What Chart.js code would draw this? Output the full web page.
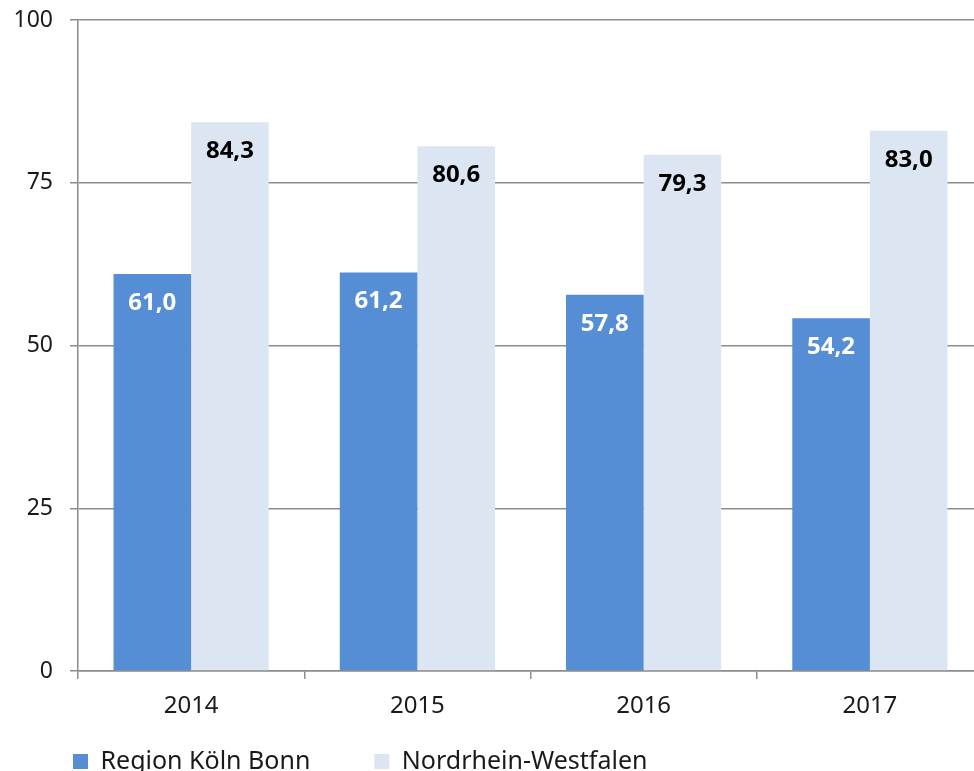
<!DOCTYPE html>
<html lang="de">
<head>
<meta charset="utf-8">
<script src="https://cdn.jsdelivr.net/npm/chart.js@4/dist/chart.umd.min.js"></script>
<style>
  html, body { margin: 0; padding: 0; background: #fff; overflow: hidden; }
  #wrap { width: 983px; height: 820px; position: relative; }
</style>
</head>
<body>
<div id="wrap"><canvas id="c"></canvas></div>
<script>
// Jahre und Anteile je Region
const years = ['2014', '2015', '2016', '2017'];
const regionKoelnBonn = [61.0, 61.2, 57.8, 54.2];
const nordrheinWestfalen = [84.3, 80.6, 79.3, 83.0];
const yTicks = [0, 25, 50, 75, 100];

const FONT = '"Noto Sans", "Open Sans", sans-serif';
const GRID = '#8c8c8c';
const LEGEND_GAP = 64;

// Wert in jeden Balken schreiben, knapp unter der Oberkante
const valueLabels = {
  id: 'valueLabels',
  afterDatasetsDraw(chart) {
    const ctx = chart.ctx;
    ctx.save();
    ctx.font = 'bold 24px ' + FONT;
    ctx.textAlign = 'center';
    ctx.textBaseline = 'middle';
    chart.data.datasets.forEach((ds, i) => {
      const meta = chart.getDatasetMeta(i);
      ctx.fillStyle = i === 0 ? '#ffffff' : '#000000';
      meta.data.forEach((bar, j) => {
        const txt = ds.data[j].toFixed(1).replace('.', ',');
        ctx.fillText(txt, bar.x, bar.y + 29);
      });
    });
    ctx.restore();
  }
};

// Legende näher an die Achsenbeschriftung rücken
const legendShift = {
  id: 'legendShift',
  afterLayout(chart) {
    if (chart.legend) chart.legend.top = chart.scales.x.bottom - 36;
  }
};

new Chart(document.getElementById('c'), {
  type: 'bar',
  data: {
    labels: years,
    datasets: [
      { label: 'Region Köln Bonn', data: regionKoelnBonn, backgroundColor: '#558ed5' },
      { label: 'Nordrhein-Westfalen', data: nordrheinWestfalen, backgroundColor: '#dce6f2' }
    ]
  },
  options: {
    responsive: true,
    maintainAspectRatio: false,
    animation: false,
    events: [],
    layout: { padding: { left: 73 - LEGEND_GAP, top: 0, right: 0, bottom: 0 } },
    datasets: { bar: { categoryPercentage: 0.686, barPercentage: 1.0 } },
    scales: {
      x: {
        border: { display: true, color: GRID, width: 1.5 },
        grid: { offset: true, drawOnChartArea: false, drawTicks: true, tickLength: 8, color: GRID, lineWidth: 1.5 },
        ticks: { color: '#1a1a1a', font: { family: FONT, size: 24 }, padding: 13 },
        afterFit(scale) { scale.height = 50; }
      },
      y: {
        min: 0, max: 100,
        afterBuildTicks(scale) { scale.ticks = yTicks.map(v => ({ value: v })); },
        border: { display: true, color: GRID, width: 1.5 },
        grid: { color: GRID, lineWidth: 1.5, tickLength: 8 },
        ticks: { color: '#1a1a1a', font: { family: FONT, size: 23 }, padding: 17 },
        afterFit(scale) {
          scale.width = 78 - (73 - LEGEND_GAP);
          scale.paddingTop = 20;
        }
      }
    },
    plugins: {
      tooltip: { enabled: false },
      legend: {
        position: 'bottom',
        align: 'start',
        labels: {
          boxWidth: 15, boxHeight: 15, padding: LEGEND_GAP,
          color: '#1a1a1a',
          font: { family: FONT, size: 25 }
        }
      }
    }
  },
  plugins: [valueLabels, legendShift]
});
</script>
</body>
</html>
